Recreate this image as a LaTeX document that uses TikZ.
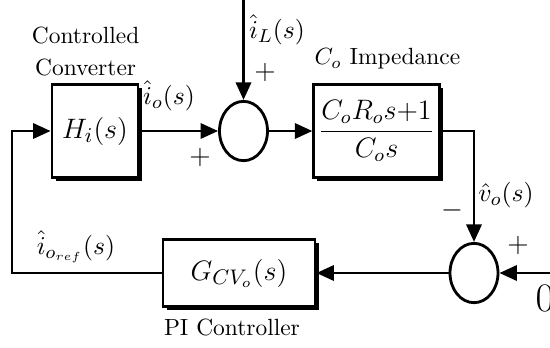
\documentclass[tikz,border=0pt]{standalone}
\usepackage{amsmath,amsfonts,amssymb,bm}
\usepackage{xcolor}
\usepackage{tikz}
\usetikzlibrary{arrows.meta,positioning,calc,shapes.geometric,shadows}

\begin{document}
\begin{tikzpicture}[x=0.15mm,y=-0.15mm,line width=1.2pt,
  blk/.style={draw,fill=white,rectangle,inner sep=2pt,font=\fontsize{13}{15}\selectfont,
    drop shadow={shadow xshift=1.5pt,shadow yshift=-1.5pt,fill=black,opacity=1}},
  sumnode/.style={draw,ellipse,minimum width=7.2mm,minimum height=8.9mm,inner sep=0pt},
  sig/.style={-{Triangle[length=7.5pt,width=6.5pt]}},
  lbl/.style={font=\fontsize{11}{13}\selectfont,inner sep=1pt},
  sgn/.style={font=\large}]
\useasboundingbox (0,0) rectangle (550,347);

% blocks and summing points
\node[blk,minimum width=12.9mm,minimum height=13.9mm] (H) at (95,131) {$H_i(s)$};
\node[sumnode] (S1) at (243.5,131) {};
\node[blk,minimum width=17.5mm,minimum height=13.9mm] (Co) at (376.5,131)
  {\fontsize{11.5}{13}\selectfont$\dfrac{C_oR_os{+}1}{C_os}$};
\node[sumnode] (S2) at (474,273) {};
\node[blk,minimum width=22.8mm,minimum height=10mm] (G) at (239,273) {$G_{CV_o}(s)$};

\coordinate (iL) at (243.5,0);
\coordinate (ref) at (550,273);
\coordinate (fb) at (12,273);

% signal paths
\draw[sig] (H) -- (S1);
\draw[sig] (iL) -- (S1);
\draw[sig] (S1) -- (Co);
\draw[sig] (Co.east) -| (S2.north);
\draw[sig] (ref) -- (S2);
\draw[sig] (S2) -- (G);
\draw[sig] (G.west) -- (fb) |- (H.west);

% signals and signs
\node[lbl] (io) at (169,96) {$\hat{i}_o(s)$};
\node[lbl] (iLlbl) at (277,30) {$\hat{i}_L(s)$};
\node[lbl] (vo) at (506,195) {$\hat{v}_o(s)$};
\node[lbl] (ioref) at (76,247) {$\hat{i}_{o_{ref}}(s)$};
\node[sgn] (p1) at (265,72) {$+$};
\node[sgn] (p2) at (200,157) {$+$};
\node[sgn] (m1) at (452,210) {$-$};
\node[sgn] (p3) at (518,245) {$+$};
\node[font=\LARGE] (zero) at (545,298) {$0$};

% block titles
\node[above=-1pt of H,xshift=-4pt,align=center] (HLbl) {Controlled\\[2pt]Converter};
\node[above right=2pt and -3pt of Co.north west] (CoLbl) {$C_o$ Impedance};
\node[below=1pt of G,xshift=-3pt] (GLbl) {PI Controller};
\end{tikzpicture}
\end{document}
